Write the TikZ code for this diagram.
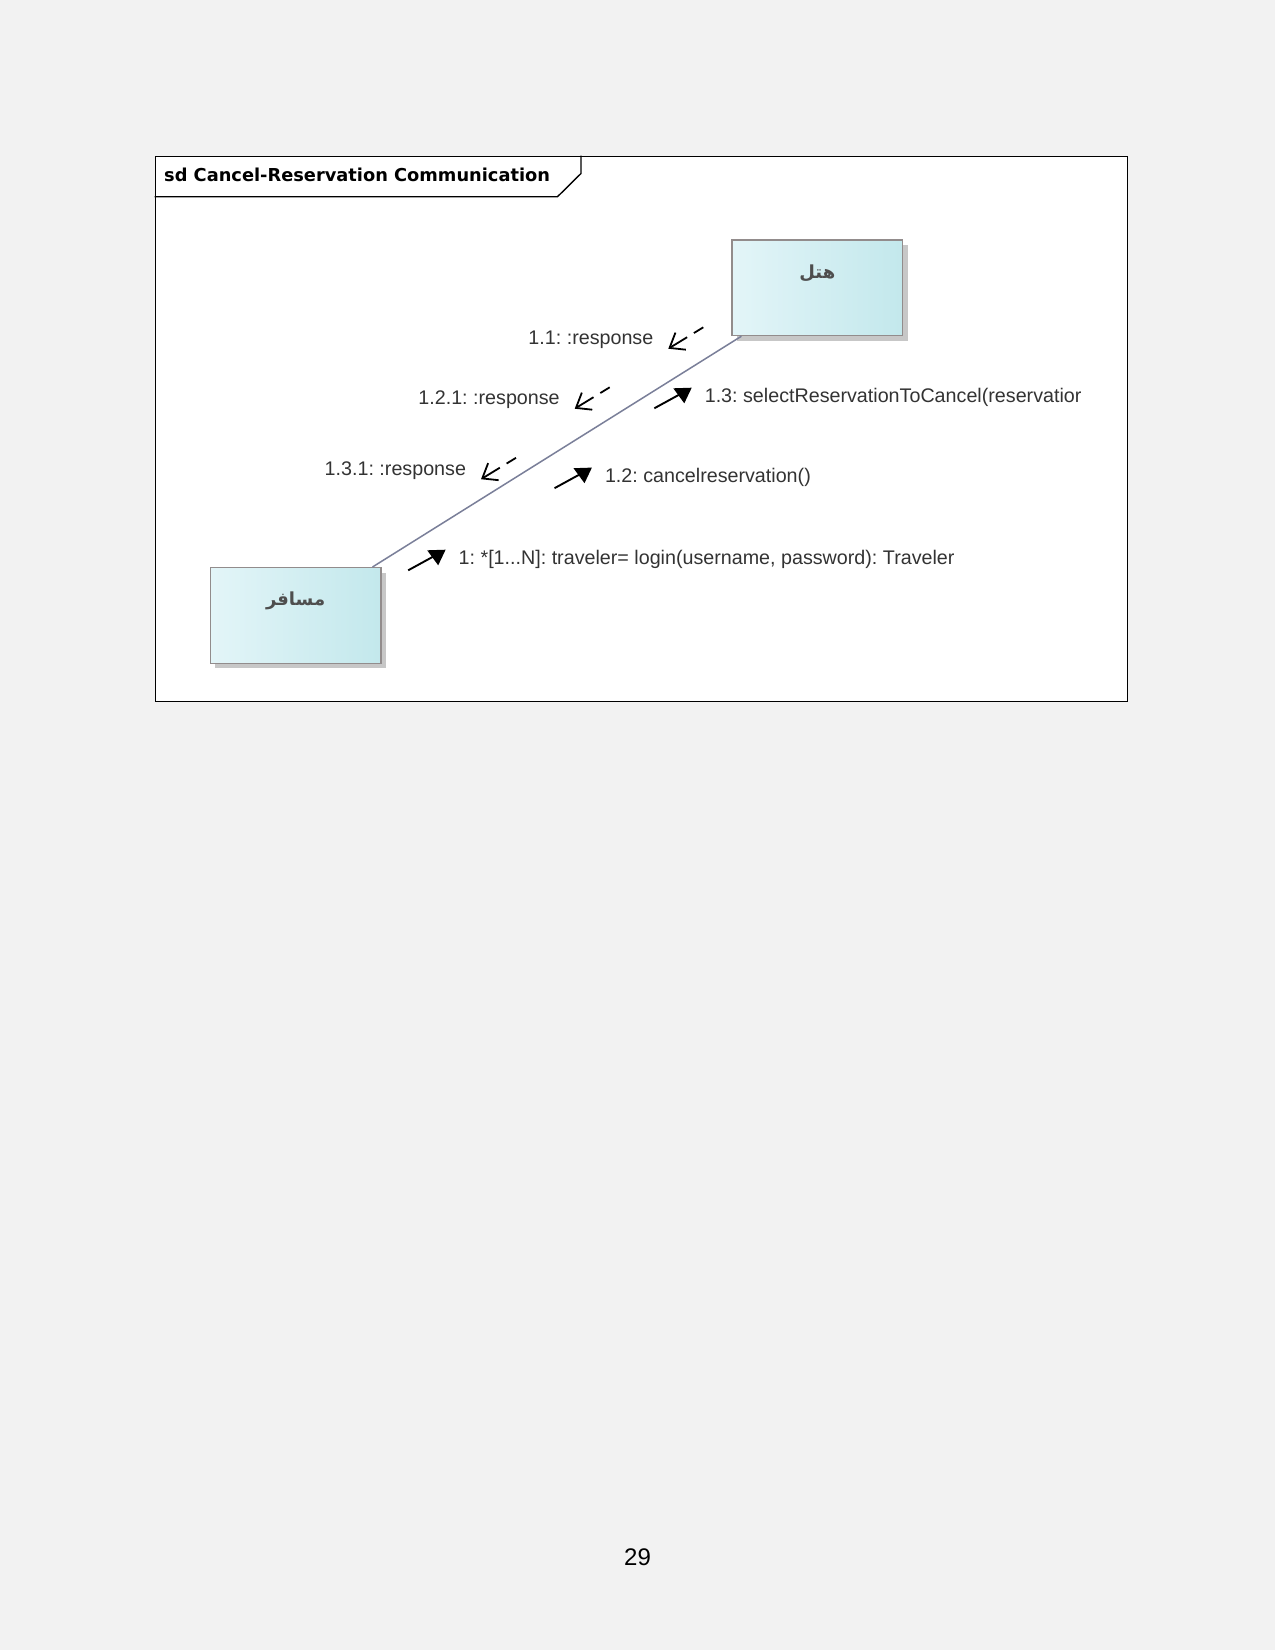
\documentclass[tikz,border=0pt]{standalone}
\usepackage{fontspec}
\setmainfont{Liberation Sans}
\newfontfamily\arabicfont[Script=Arabic]{DejaVu Sans}
\newfontfamily\titlefont{DejaVu Sans}
\TeXXeTstate=1
\frenchspacing
\usetikzlibrary{arrows.meta,shadows,calc}
\definecolor{pagebg}{HTML}{F2F2F2}
\definecolor{boxleft}{HTML}{E3F5F8}
\definecolor{boxright}{HTML}{C3E8EC}
\definecolor{boxborder}{HTML}{928C8C}
\definecolor{linkcol}{HTML}{7A7F99}
\definecolor{labelgray}{HTML}{333333}
\definecolor{namegray}{HTML}{4E4E4E}
\newcommand\resparrow[1]{%
  \draw[resparr] ([shift={(50,-10.4)}]#1.east) -- ([shift={(15,11)}]#1.east);}
\newcommand\callarrow[1]{%
  \draw[callarr] ([shift={(-50.5,12.7)}]#1.west) -- ([shift={(-25.5,-1)}]#1.west);
  \fill[black] ([shift={(-31.5,-7.3)}]#1.west) -- ([shift={(-13.1,-7.9)}]#1.west)
     -- ([shift={(-20.5,7.7)}]#1.west) -- cycle;}
\begin{document}
\begin{tikzpicture}[x=1pt,y=-1pt,
  objbox/.style={draw=boxborder, line width=1.2pt, left color=boxleft, right color=boxright,
     minimum width=170.6pt, minimum height=95.6pt, inner sep=0pt,
     drop shadow={shadow xshift=5pt, shadow yshift=-5pt, fill=black!22, opacity=1}},
  objname/.style={font=\arabicfont\bfseries\fontsize{18}{21}\selectfont, text=namegray, inner sep=0pt},
  msg/.style={font=\fontsize{19.7}{22}\selectfont, text=labelgray, inner sep=0pt, outer sep=0pt,
     text height=14pt, text depth=0pt},
  resparr/.style={line width=1.8pt, dash pattern=on 11pt off 8pt on 60pt,
     -{Straight Barb[length=13pt,width=20pt,line width=1.8pt]}},
  callarr/.style={line width=1.9pt},
  linkline/.style={draw=linkcol, line width=1.5pt}]
\fill[pagebg] (0,0) rectangle (1275,1650);
\useasboundingbox (0,0) rectangle (1275,1650);

% frame
\node[draw=black, fill=white, line width=1.4pt, minimum width=972.1pt, minimum height=544.9pt,
  anchor=north west, inner sep=0pt] (frame) at (154.6,155.7) {};
\draw[line width=1.4pt] (154.6,196.7) -- (557.5,196.7) -- (581,173.5) -- (581,155.7);
\node[anchor=west, inner sep=0pt, font=\titlefont\bfseries\fontsize{17.8}{21}\selectfont] (title)
  at (164,175) {sd Cancel-Reservation Communication};

% objects
\node[objbox] (hotel) at (817.3,287.8) {};
\node[objbox] (trav) at (295.6,615.4) {};
\node[objname] (hotelname) at ([shift={(0,34)}]hotel.north) {\beginR هتل\endR};
\node[objname] (travname) at ([shift={(0,34)}]trav.north) {\beginR مسافر\endR};

% link
\coordinate (la) at ([shift={(-9,0)}]trav.north east);
\coordinate (lb) at ([shift={(10,0)}]hotel.south west);
\draw[linkline] (la) -- (lb);

% messages
\node[msg, anchor=east] (r11) at (653.3,337.7) {1.1: :response};
\node[msg, anchor=east] (r121) at (559.7,397.7) {1.2.1: :response};
\node[msg, anchor=east] (r131) at (466,468.2) {1.3.1: :response};
\node[msg, anchor=west] (m13) at (704.8,395.6) {1.3: selectReservationToCancel(reservatior};
\node[msg, anchor=west] (m12) at (605,475.5) {1.2: cancelreservation()};
\node[msg, anchor=west] (m1) at (458.7,557.6) {1: *[1...N]: traveler= login(username, password): Traveler};

\resparrow{r11}
\resparrow{r121}
\resparrow{r131}
\callarrow{m13}
\callarrow{m12}
\callarrow{m1}

% page number
\node[font=\fontsize{24}{28}\selectfont, inner sep=0pt] (pg) at (637.5,1557) {29};
\end{tikzpicture}
\end{document}
